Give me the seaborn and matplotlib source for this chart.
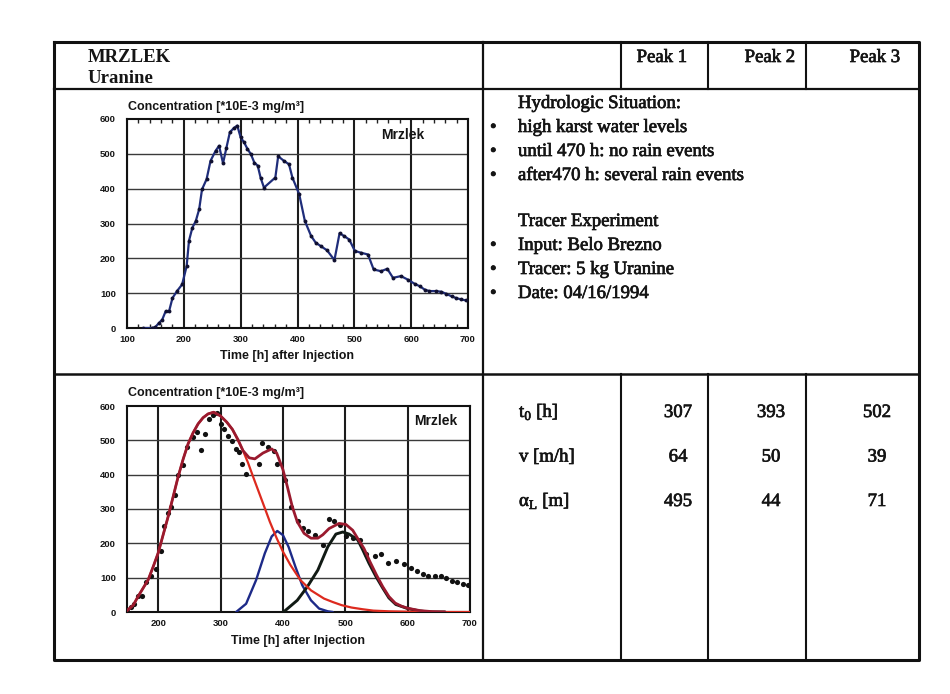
import matplotlib
matplotlib.use("Agg")
import matplotlib.pyplot as plt
import matplotlib.patheffects as pe
import seaborn as sns
from matplotlib.lines import Line2D
from matplotlib.ticker import MultipleLocator

# ---------------- data ----------------
# observed concentrations (time [h], concentration [*10E-3 mg/m3])
obs_t = [129, 144, 150, 156, 162, 168, 174, 180, 188, 197, 205, 209, 215, 221, 227, 232, 240, 247, 256, 262,
         269, 275, 281, 288, 294, 300, 306, 312, 318, 324, 330, 335, 341, 361, 366, 376, 385, 391, 403, 413,
         424, 432, 441, 452, 465, 474, 482, 491, 501, 512, 524, 534, 547, 558, 568, 582, 594, 606, 615, 624,
         632, 644, 653, 662, 671, 679, 688, 697]
obs_c = [0, 0, 3, 14, 24, 48, 48, 86, 106, 125, 178, 250, 288, 307, 341, 398, 427, 480, 509, 523,
         473, 518, 562, 574, 581, 547, 533, 514, 499, 475, 466, 432, 403, 432, 493, 480, 470, 432, 384, 307,
         264, 245, 235, 223, 195, 272, 264, 254, 221, 216, 211, 168, 163, 170, 144, 149, 139, 127, 120, 110,
         106, 106, 104, 98, 91, 86, 82, 79]

# fitted curves (bottom chart)
peak1_t = [150, 160, 168, 176, 184, 192, 200, 208, 216, 224, 232, 240, 248, 256, 264, 272, 280, 289,
           300, 310, 319, 328, 336, 344, 352, 360, 368, 379, 390, 400, 412, 428, 445, 466, 480, 494, 510,
           528, 545, 570, 600, 650, 700]
peak1_c = [4, 20, 46, 70, 94, 132, 172, 225, 278, 336, 394, 445, 490, 522, 548, 566, 577, 582,
           571, 553, 532, 500, 470, 435, 395, 356, 317, 263, 215, 176, 137, 93, 63, 39, 29, 20, 13,
           8, 4, 2, 1, 0, 0]
total_t = [150, 160, 168, 176, 184, 192, 200, 208, 216, 224, 232, 240, 248, 256, 264, 272, 280, 289,
           300, 310, 319, 328, 336, 346, 355, 368, 382, 390, 400, 407, 415, 423, 434, 445, 456, 464, 474,
           490, 501, 512, 520, 530, 540, 550, 560, 570, 580, 590, 600, 620, 640, 660]
total_c = [4, 20, 46, 70, 94, 132, 172, 225, 278, 336, 394, 445, 490, 522, 548, 566, 577, 582,
           571, 553, 532, 502, 470, 449, 446, 463, 475, 463, 415, 366, 307, 263, 229, 215, 215, 225, 243,
           258, 255, 238, 214, 185, 145, 108, 74, 45, 26, 17, 11, 4, 1, 0]
peak2_t = [325, 341, 357, 371, 382, 391, 400, 409, 420, 431, 445, 458, 472, 480]
peak2_c = [0, 24, 93, 171, 220, 236, 224, 190, 132, 78, 34, 10, 2, 0]
peak3_t = [401, 423, 439, 456, 472, 485, 496, 506, 520, 528, 538, 549, 560, 570, 581, 600, 619, 635, 660]
peak3_c = [0, 34, 73, 122, 190, 227, 233, 227, 210, 181, 142, 104, 70, 41, 22, 10, 3, 0, 0]

# table content
station = "MRZLEK"
tracer = "Uranine"
peak_labels = ["Peak 1", "Peak 2", "Peak 3"]
param_labels = ["t$_\\mathregular{0}$ [h]", "v [m/h]", "α$_\\mathregular{L}$ [m]"]
param_values = [["307", "393", "502"], ["64", "50", "39"], ["495", "44", "71"]]
hydro_title = "Hydrologic Situation:"
hydro_items = ["high karst water levels", "until 470 h: no rain events", "after470 h: several rain events"]
tracer_title = "Tracer Experiment"
tracer_items = ["Input: Belo Brezno", "Tracer: 5 kg Uranine", "Date: 04/16/1994"]
chart_ylabel = "Concentration [*10E-3 mg/m³]"
chart_xlabel = "Time [h] after Injection"
chart_tag = "Mrzlek"

# ---------------- style ----------------
sns.set_style("white")
plt.rcParams['font.family'] = ['Liberation Sans', 'DejaVu Sans']
plt.rcParams['axes.unicode_minus'] = False

W, H = 950, 694
fig = plt.figure(figsize=(9.5, 6.94), dpi=100)
fig.patch.set_facecolor("white")

heavy = [pe.withStroke(linewidth=0.5, foreground="#151515")]


def fx(px):
    return px / W


def fy(py):
    return 1 - py / H


def line(xs, ys, lw):
    fig.add_artist(Line2D([fx(x) for x in xs], [fy(y) for y in ys], transform=fig.transFigure,
                          color="#111111", lw=lw, solid_capstyle="projecting"))


def stext(x, y, s, stroke=True, **kw):
    t = fig.text(fx(x), fy(y), s, family=['Liberation Serif', 'DejaVu Serif'], fontsize=13.5,
                 va="baseline", color="#151515", **kw)
    if stroke:
        t.set_path_effects(heavy)
    return t


# table frame
L, R, T, B = 54, 919, 42, 660
line([L, R, R, L, L], [T, T, B, B, T], 2.2)
line([L, R], [89, 89], 1.6)
line([L, R], [374, 374], 1.8)
line([483, 483], [T, B], 1.6)
for xc in (621, 708, 806):
    line([xc, xc], [T, 89], 1.5)
    line([xc, xc], [374, B], 1.5)

stext(88, 62, station, stroke=False, weight="bold")
stext(88, 83, tracer, stroke=False, weight="bold")
for lab, xc in zip(peak_labels, (662, 770, 875)):
    stext(xc, 62, lab, ha="center")

stext(518, 108, hydro_title)
for i, item in enumerate(hydro_items):
    yb = 132 + 24 * i
    stext(490, yb, "•")
    stext(518, yb, item)
stext(518, 226, tracer_title)
for i, item in enumerate(tracer_items):
    yb = 250 + 24 * i
    stext(490, yb, "•")
    stext(518, yb, item)

for j, (lab, vals) in enumerate(zip(param_labels, param_values)):
    yb = 417 + 44.5 * j
    stext(519, yb, lab)
    for v, xc in zip(vals, (678, 771, 877)):
        stext(xc, yb, v, ha="center")


# ---------------- charts ----------------
def style_chart(ax, xmin, xticks):
    ax.set_xlim(xmin, 700)
    ax.set_ylim(0, 600)
    ax.set_xticks(xticks)
    ax.set_yticks(range(0, 601, 100))
    ax.grid(False)
    for x in xticks:
        ax.axvline(x, color="#1c1c1c", lw=1.5, zorder=0.5)
    for y in range(100, 600, 100):
        ax.axhline(y, color="#3a3a3a", lw=1.0, zorder=0.5)
    for s in ax.spines.values():
        s.set_visible(True)
        s.set_color("#111111")
        s.set_linewidth(1.5)
    ax.tick_params(axis="both", which="major", length=0, labelsize=6.8, pad=5, labelcolor="#151515")
    ax.tick_params(axis="y", pad=8)
    for lab in ax.get_xticklabels() + ax.get_yticklabels():
        lab.set_fontweight("bold")
    ax.set_xlabel("")
    ax.set_ylabel("")
    ax.set_facecolor("white")


ax1 = fig.add_axes([fx(127), fy(328), (468 - 127) / W, (328 - 119) / H])
sns.lineplot(x=obs_t, y=obs_c, ax=ax1, color="#1f2d7a", lw=1.6, marker="o", markersize=2.8,
             markeredgewidth=0, markerfacecolor="#101030", estimator=None, sort=False, zorder=3)
style_chart(ax1, 100, list(range(100, 701, 100)))
ax1.xaxis.set_minor_locator(MultipleLocator(20))
ax1.tick_params(axis="x", which="minor", direction="in", length=3, width=1, top=True, bottom=True,
                color="#222222")
ax1.text(0.81, 0.923, chart_tag, transform=ax1.transAxes, ha="center", va="center",
         fontsize=10, weight="bold", color="#151515")
fig.text(fx(128), fy(107), chart_ylabel, fontsize=9, weight="bold", va="center", color="#151515")
fig.text(fx(287), fy(356), chart_xlabel, fontsize=9, weight="bold", ha="center", va="center",
         color="#151515")

ax2 = fig.add_axes([fx(127), fy(612), (470 - 127) / W, (612 - 406) / H])
sns.scatterplot(x=obs_t, y=obs_c, ax=ax2, color="#111111", s=14, linewidth=0, zorder=3)
sns.lineplot(x=peak2_t, y=peak2_c, ax=ax2, color="#1d2a88", lw=1.7, estimator=None, sort=False, zorder=4)
sns.lineplot(x=peak3_t, y=peak3_c, ax=ax2, color="#111a14", lw=2.1, estimator=None, sort=False, zorder=4)
sns.lineplot(x=peak1_t, y=peak1_c, ax=ax2, color="#dd2a1e", lw=1.6, estimator=None, sort=False, zorder=4)
sns.lineplot(x=total_t, y=total_c, ax=ax2, color="#9a1a2e", lw=2.0, estimator=None, sort=False, zorder=5)
style_chart(ax2, 150, list(range(200, 701, 100)))
ax2.text(0.90, 0.927, chart_tag, transform=ax2.transAxes, ha="center", va="center",
         fontsize=10, weight="bold", color="#151515")
fig.text(fx(128), fy(393), chart_ylabel, fontsize=9, weight="bold", va="center", color="#151515")
fig.text(fx(298), fy(641), chart_xlabel, fontsize=9, weight="bold", ha="center", va="center",
         color="#151515")

fig.savefig("out.png", dpi=100, facecolor="white")
